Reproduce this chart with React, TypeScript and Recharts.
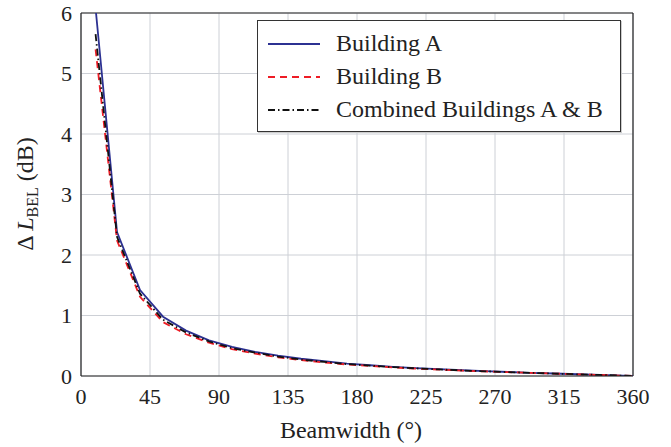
import React from "react";
import { LineChart, Line, XAxis, YAxis, CartesianGrid, ReferenceLine } from "recharts";

const beamwidth = [9.5, 23.5, 38.5, 53.5, 68.5, 83.5, 98.5, 113.5, 128.5, 143.5, 158.5, 173.5, 188.5, 203.5, 218.5, 233.5, 248.5, 263.5, 278.5, 293.5, 308.5, 323.5, 338.5, 353.5, 360];
const buildingA = [6.08, 2.38, 1.42, 0.98, 0.75, 0.59, 0.48, 0.4, 0.335, 0.285, 0.245, 0.205, 0.178, 0.152, 0.13, 0.112, 0.095, 0.08, 0.066, 0.053, 0.041, 0.029, 0.018, 0.006, 0];
const buildingB = [5.4, 2.24, 1.31, 0.89, 0.69, 0.55, 0.445, 0.37, 0.31, 0.262, 0.224, 0.19, 0.165, 0.142, 0.122, 0.105, 0.09, 0.076, 0.063, 0.051, 0.04, 0.028, 0.017, 0.006, 0];
const combined = [5.65, 2.3, 1.36, 0.93, 0.72, 0.57, 0.46, 0.385, 0.322, 0.272, 0.233, 0.197, 0.171, 0.147, 0.126, 0.108, 0.092, 0.078, 0.064, 0.052, 0.04, 0.028, 0.017, 0.006, 0];
const xTicks = [0, 45, 90, 135, 180, 225, 270, 315, 360];
const yTicks = [0, 1, 2, 3, 4, 5, 6];
const seriesNames = ["Building A", "Building B", "Combined Buildings A & B"];
const xTitle = "Beamwidth (°)";

const data = beamwidth.map((b, i) => ({ b, a: buildingA[i], bb: buildingB[i], c: combined[i] }));

const FONT = "'Liberation Serif', 'Times New Roman', serif";

const styles = [
  { key: "a", color: "#2c3192", dash: undefined as string | undefined },
  { key: "bb", color: "#ee1c25", dash: "7 5" },
  { key: "c", color: "#111111", dash: "7 3 1.5 3" },
];

const LegendBox = () => (
  <div style={{ position: "absolute", left: 257, top: 20, border: "1px solid #333", background: "#fff", width: 364, height: 112, boxSizing: "border-box", paddingTop: 6, fontFamily: FONT, fontSize: 24, color: "#222", boxShadow: "1px 1px 0 #ccc" }}>
    {seriesNames.map((n, i) => (
      <div key={n} style={{ display: "flex", alignItems: "center", height: 33 }}>
        <svg width={78} height={10} style={{ display: "block" }}>
          <line x1={10} x2={62} y1={5} y2={5} stroke={styles[i].color} strokeWidth={1.8} strokeDasharray={styles[i].dash} />
        </svg>
        <span style={{ lineHeight: "33px" }}>{n}</span>
      </div>
    ))}
  </div>
);

const YLabel = () => (
  <text transform="translate(33,194) rotate(-90)" textAnchor="middle" fontFamily={FONT} fontSize={24} fill="#222">
    <tspan>Δ </tspan>
    <tspan fontStyle="italic">L</tspan>
    <tspan fontSize={16} dy={5}>BEL</tspan>
    <tspan dy={-5}>  (dB)</tspan>
  </text>
);

const XLabel = () => (
  <text x={351} y={438} textAnchor="middle" fontFamily={FONT} fontSize={24} fill="#222">
    {xTitle}
  </text>
);

export default function App() {
  return (
    <div style={{ position: "absolute", left: 0, top: 0, width: 671, height: 447, background: "#fff" }}>
      <LineChart width={671} height={447} data={data} margin={{ top: 13, right: 38, left: 21, bottom: 21 }}>
        <CartesianGrid stroke="#cdd0d6" strokeWidth={1} />
        <XAxis
          dataKey="b"
          type="number"
          domain={[0, 360]}
          ticks={xTicks}
          interval={0}
          tickLine={false}
          tickSize={6}
          tickMargin={6}
          height={50}
          axisLine={{ stroke: "#222", strokeWidth: 1.2 }}
          tick={{ fontFamily: FONT, fontSize: 22, fill: "#222" }}
          label={<XLabel />}
        />
        <YAxis
          type="number"
          domain={[0, 6]}
          ticks={yTicks}
          interval={0}
          allowDataOverflow
          tickLine={false}
          tickSize={6}
          tickMargin={3}
          width={60}
          axisLine={{ stroke: "#222", strokeWidth: 1.2 }}
          tick={{ fontFamily: FONT, fontSize: 22, fill: "#222" }}
          label={<YLabel />}
        />
        <ReferenceLine x={360} stroke="#222" strokeWidth={1.2} />
        <ReferenceLine y={6} stroke="#222" strokeWidth={1.2} />
        <Line dataKey="a" stroke={styles[0].color} strokeWidth={1.8} dot={false} isAnimationActive={false} />
        <Line dataKey="bb" stroke={styles[1].color} strokeWidth={1.8} strokeDasharray={styles[1].dash} dot={false} isAnimationActive={false} />
        <Line dataKey="c" stroke={styles[2].color} strokeWidth={1.8} strokeDasharray={styles[2].dash} dot={false} isAnimationActive={false} />
      </LineChart>
      <LegendBox />
    </div>
  );
}
